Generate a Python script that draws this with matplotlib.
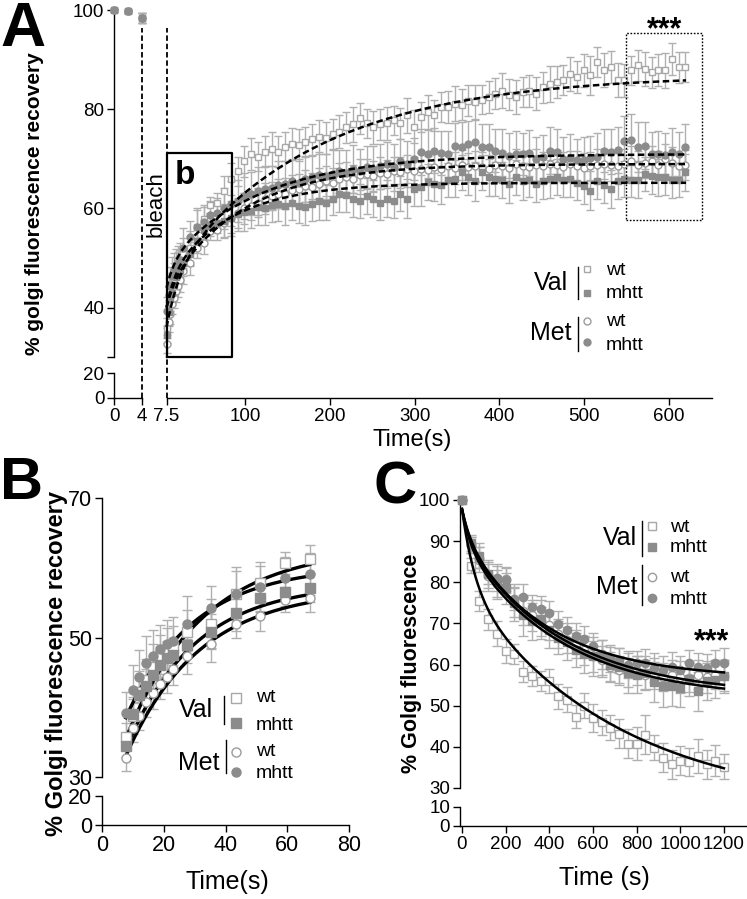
import numpy as np
import matplotlib
matplotlib.use("Agg")
import matplotlib.pyplot as plt
from matplotlib.lines import Line2D

plt.rcParams["font.family"] = ["Liberation Sans", "DejaVu Sans"]
plt.rcParams["axes.linewidth"] = 1.0

W, H = 747, 899

# ---------------- data ----------------
# pre-bleach frames (panel A)
pre_t = [0, 2, 4]
pre_val = [100.0, 99.8, 98.5]
pre_err = [0.3, 0.4, 1.0]

# panel B: first ~67 s after the bleach (also the start of panel A)
tB = [7.7, 9.9, 12.1, 14.3, 16.5, 18.7, 20.9, 23.1, 27.4, 35.3, 43.3, 51.3, 59.3, 67.3]
valwt_B = [35.8, 38.7, 42.2, 43.9, 45.8, 47.3, 48.0, 48.6, 50.8, 52.0, 56.2, 57.8, 60.7, 61.2]
valmhtt_B = [34.4, 39.0, 41.8, 43.0, 44.6, 46.1, 47.0, 47.5, 48.9, 50.8, 53.5, 55.6, 56.5, 57.1]
metwt_B = [32.7, 37.0, 38.7, 40.8, 42.0, 43.4, 44.4, 45.5, 47.3, 49.0, 52.0, 53.1, 55.4, 55.6]
metmhtt_B = [39.2, 42.5, 44.4, 46.4, 47.3, 48.3, 49.0, 49.5, 52.0, 54.2, 56.3, 57.3, 58.6, 59.1]
valwt_B_err = [2.0, 2.5, 3.0, 3.0, 3.2, 3.0, 3.3, 3.0, 3.2, 3.5, 3.4, 2.5, 1.6, 2.0]
valmhtt_B_err = [1.5, 2.5, 2.5, 2.5, 2.5, 2.5, 2.5, 2.5, 2.5, 2.5, 2.5, 2.0, 2.0, 2.0]
metwt_B_err = [1.8, 2.0, 2.0, 2.2, 2.2, 2.2, 2.3, 2.3, 2.5, 2.5, 2.0, 2.2, 1.8, 2.0]
metmhtt_B_err = [3.0, 3.5, 3.8, 3.8, 3.8, 3.5, 3.5, 3.5, 4.0, 3.2, 3.8, 3.5, 3.0, 3.0]

# panel A: rest of the recovery, one frame every 8 s
tA_late = np.arange(75.3, 620, 8)
valwt_A = [63.5, 66.0, 67.5, 69.5, 71.0, 70.5, 71.5, 72.0, 71.5, 72.5,
           73.0, 72.8, 73.5, 74.0, 74.5, 74.2, 75.0, 75.5, 76.4, 77.0,
           78.2, 77.2, 76.4, 77.0, 77.2, 77.8, 77.2, 78.8, 76.5, 78.5,
           79.5, 78.8, 80.5, 80.5, 81.2, 81.0, 81.8, 81.5, 82.0, 82.5,
           83.2, 83.8, 83.0, 82.5, 83.5, 83.8, 83.2, 84.5, 85.2, 85.5,
           86.0, 87.2, 86.5, 87.9, 86.9, 89.6, 88.0, 88.6, 86.0, 85.9,
           87.9, 88.9, 88.2, 87.5, 88.0, 87.9, 90.2, 88.5, 88.6]
valmhtt_A = [57.5, 58.0, 58.8, 59.3, 59.5, 60.3, 60.0, 60.8, 61.0, 60.5,
             61.2, 60.5, 60.3, 61.0, 61.5, 61.2, 62.0, 63.0, 62.8, 62.0,
             61.5, 62.5, 62.0, 61.2, 62.0, 61.5, 63.0, 62.0, 64.0, 64.3,
             65.3, 65.0, 64.8, 65.7, 66.0, 67.3, 66.3, 65.5, 67.3, 66.3,
             66.0, 65.7, 65.0, 66.3, 65.5, 65.7, 65.0, 65.5, 66.0, 66.3,
             65.8, 66.0, 65.2, 64.5, 63.6, 65.5, 64.8, 64.0, 65.5, 66.0,
             65.7, 65.8, 67.0, 66.5, 66.3, 66.3, 65.8, 65.7, 67.3]
metwt_A = [57.0, 58.0, 59.0, 60.0, 60.5, 61.2, 62.0, 62.5, 63.0, 63.0,
           63.8, 64.0, 64.5, 64.3, 65.0, 65.5, 65.2, 66.0, 66.3, 66.0,
           66.8, 67.0, 66.5, 67.2, 67.0, 67.5, 67.3, 68.0, 67.5, 68.0,
           67.8, 68.3, 68.0, 68.5, 68.2, 68.8, 68.3, 68.6, 68.4, 68.0,
           68.8, 68.5, 68.2, 68.9, 68.6, 68.3, 68.8, 68.5, 69.0, 68.7,
           68.4, 68.9, 68.6, 68.2, 68.5, 68.8, 69.0, 68.7, 68.5, 69.0,
           69.5, 68.8, 69.2, 69.5, 68.8, 70.0, 69.2, 68.5, 68.8]
metmhtt_A = [60.0, 61.0, 61.5, 62.5, 63.0, 63.5, 64.0, 64.2, 64.8, 65.0,
             65.5, 65.2, 66.0, 66.3, 66.8, 66.5, 67.0, 67.5, 67.2, 68.0,
             67.5, 68.3, 68.0, 68.5, 69.0, 68.3, 69.5, 69.0, 70.0, 71.4,
             71.0, 71.7, 71.2, 71.0, 72.7, 72.5, 73.1, 73.5, 72.4, 72.5,
             71.7, 71.3, 70.7, 71.0, 71.0, 71.2, 70.0, 70.5, 71.7, 71.5,
             70.0, 70.3, 69.7, 69.8, 70.2, 70.5, 71.7, 71.5, 71.8, 73.7,
             73.9, 72.4, 72.7, 71.0, 71.0, 70.8, 71.4, 71.0, 72.4]
valwt_A_err = [3.0, 3.2, 3.0, 3.1, 3.3, 3.0, 3.2, 3.4, 3.1, 3.0,
               3.2, 3.3, 3.0, 3.1, 3.4, 3.2, 3.0, 3.3, 3.1, 3.5,
               3.2, 3.0, 3.3, 3.1, 3.4, 3.0, 3.2, 3.5, 3.3, 3.1,
               3.4, 3.2, 3.0, 3.3, 3.6, 3.2, 3.1, 3.4, 3.0, 3.3,
               3.2, 3.5, 3.1, 3.4, 3.0, 3.2, 3.3, 3.1, 3.6, 3.2,
               3.0, 3.4, 3.2, 3.3, 4.0, 3.1, 3.5, 3.2, 3.4, 3.3,
               3.0, 3.2, 3.5, 3.1, 3.3, 3.6, 3.2, 3.1, 3.0]
valmhtt_A_err = [3.5, 3.6, 3.4, 3.8, 3.5, 3.7, 3.4, 3.6, 3.5, 3.8,
                 3.6, 3.4, 3.7, 3.5, 3.9, 3.6, 3.4, 3.8, 3.5, 3.7,
                 3.4, 3.6, 3.8, 3.5, 3.7, 3.4, 3.6, 4.0, 3.5, 3.7,
                 3.6, 3.5, 3.8, 3.4, 3.7, 3.5, 3.6, 3.9, 3.5, 3.7,
                 3.4, 3.6, 3.8, 3.5, 3.7, 3.4, 3.6, 3.5, 3.8, 3.6,
                 3.5, 3.7, 3.4, 3.6, 4.0, 3.5, 3.7, 3.8, 3.5, 3.6,
                 3.4, 3.7, 3.5, 3.6, 3.8, 3.5, 3.6, 3.4, 3.7]
metwt_A_err = [2.8, 3.0, 2.9, 3.1, 2.8, 3.0, 3.2, 2.9, 3.0, 3.1,
               2.9, 3.0, 3.2, 2.8, 3.1, 3.0, 2.9, 3.2, 3.0, 2.8,
               3.1, 2.9, 3.0, 3.2, 2.8, 3.0, 3.1, 2.9, 3.0, 3.2,
               2.9, 3.1, 3.0, 2.8, 3.2, 3.0, 2.9, 3.1, 3.0, 2.8,
               3.0, 3.2, 2.9, 3.1, 3.0, 2.8, 3.2, 3.0, 2.9, 3.1,
               3.0, 2.8, 3.1, 3.0, 2.9, 3.2, 3.0, 3.1, 2.8, 3.0,
               3.2, 2.9, 3.0, 3.1, 2.9, 3.0, 3.2, 2.8, 3.0]
metmhtt_A_err = [4.2, 4.5, 4.3, 4.6, 4.4, 4.8, 4.5, 4.3, 4.7, 4.5,
                 4.4, 4.8, 4.6, 4.3, 4.7, 4.5, 4.9, 4.4, 4.6, 4.8,
                 4.5, 4.3, 4.7, 4.6, 4.4, 4.8, 4.5, 4.7, 4.3, 4.6,
                 4.8, 4.5, 4.4, 4.7, 4.6, 4.9, 4.5, 4.3, 4.7, 4.6,
                 4.4, 4.8, 4.5, 4.6, 4.3, 4.7, 4.5, 4.4, 4.8, 4.6,
                 4.5, 4.7, 4.3, 4.6, 4.5, 4.8, 4.4, 4.6, 4.7, 5.0,
                 5.2, 5.0, 4.7, 4.5, 4.6, 4.4, 4.8, 4.5, 4.7]

# panel C: loss of fluorescence, one frame every 40 s
tC = np.arange(0, 1201, 40)
valwt_C = [100.0, 84.0, 75.5, 71.0, 67.5, 63.3, 62.6, 58.3, 57.2, 56.0,
           56.0, 52.3, 51.5, 47.3, 50.0, 47.0, 46.0, 44.7, 43.2, 40.8,
           40.8, 43.0, 39.8, 37.4, 35.8, 36.6, 36.3, 37.8, 35.8, 36.6,
           35.2]
valmhtt_C = [100.0, 89.5, 86.5, 82.0, 80.5, 78.5, 75.0, 72.0, 70.5, 71.0,
             68.5, 66.5, 65.5, 63.5, 62.5, 62.0, 61.5, 60.0, 59.5, 58.0,
             57.5, 58.0, 55.8, 54.8, 54.8, 54.3, 56.5, 53.5, 56.0, 56.3,
             57.2]
metwt_C = [100.0, 89.0, 85.5, 81.5, 79.5, 80.8, 75.0, 73.0, 72.0, 70.5,
           69.5, 67.5, 66.0, 65.0, 63.5, 62.0, 61.0, 59.5, 58.8, 58.0,
           58.5, 57.5, 57.8, 57.0, 57.5, 57.0, 56.8, 57.5, 57.0, 57.5,
           57.3]
metmhtt_C = [100.0, 89.0, 86.0, 82.0, 81.0, 80.5, 76.0, 76.5, 74.0, 73.5,
             72.5, 69.8, 68.5, 67.0, 66.3, 64.5, 62.5, 61.5, 61.0, 60.0,
             60.3, 60.5, 59.2, 58.8, 59.5, 58.7, 60.3, 59.3, 59.1, 60.3,
             60.5]
valwt_C_err = [0.0, 1.8, 2.5, 2.5, 3.0, 3.0, 2.5, 2.5, 2.5, 2.5,
               3.0, 3.0, 3.0, 2.8, 3.0, 3.5, 3.0, 3.0, 3.5, 3.5,
               4.0, 4.8, 3.0, 3.5, 3.5, 3.5, 3.5, 4.2, 3.5, 3.8,
               3.0]
valmhtt_C_err = [0.0, 2.0, 3.0, 3.5, 4.0, 3.8, 4.5, 5.0, 4.5, 4.8,
                 4.5, 4.0, 4.5, 4.2, 4.5, 4.8, 4.5, 4.3, 4.5, 4.8,
                 4.5, 4.2, 4.8, 5.0, 4.8, 4.5, 4.2, 4.8, 4.5, 4.5,
                 4.0]
metwt_C_err = [0.0, 2.0, 3.0, 3.5, 3.5, 3.0, 3.5, 3.5, 3.8, 3.5,
               3.5, 3.5, 3.2, 3.5, 3.5, 3.8, 3.5, 3.5, 3.2, 3.5,
               3.5, 3.5, 3.8, 3.5, 3.5, 3.8, 3.5, 3.5, 3.8, 3.5,
               3.8]
metmhtt_C_err = [0.0, 2.0, 2.5, 2.5, 3.0, 3.0, 2.8, 3.0, 3.0, 3.2,
                 3.0, 3.2, 3.0, 3.2, 3.0, 3.2, 3.5, 3.2, 3.0, 3.2,
                 3.0, 3.2, 3.5, 3.2, 3.5, 3.5, 3.2, 3.5, 3.5, 3.2,
                 3.5]

# fitted curves (parameters of the fits drawn in the figure)
# A: two-phase association (start, fast amp, fast tau, slow amp, slow tau)
fitA_valwt = (36.0, 10.0, 15.0, 41.0, 170.0)
fitA_valmhtt = (40.0, 6.0, 10.0, 19.2, 75.0)
fitA_metwt = (40.0, 4.0, 10.0, 25.0, 90.0)
fitA_metmhtt = (44.0, 5.0, 10.0, 22.0, 110.0)
# B: one-phase association (start, plateau, k)
fitB_valwt = (35.5, 63.0, 0.040)
fitB_valmhtt = (34.0, 57.8, 0.045)
fitB_metwt = (33.0, 57.0, 0.042)
fitB_metmhtt = (38.5, 60.3, 0.045)
# C: two-phase decay (plateau, fast amp, fast tau, slow amp, slow tau)
fitC_valwt = (25.0, 18.4, 60.0, 54.4, 700.0)
fitC_valmhtt = (51.5, 8.0, 40.0, 38.3, 450.0)
fitC_metwt = (52.4, 7.0, 40.0, 38.4, 450.0)
fitC_metmhtt = (56.6, 6.0, 40.0, 35.2, 380.0)

bleach_t = [4, 7.5]
box_b = (7.5, 85.0, 30.0, 71.3)
box_late = (549.0, 639.0, 57.6, 95.4)


# ---------------- helpers ----------------
def fx(x):
    return x / W


def fy(y):
    return 1 - y / H


def piecewise(bp, px):
    return (lambda v: np.interp(v, bp, px), lambda p: np.interp(p, px, bp))


def assoc2(t, p, t0):
    y0, a1, tau1, a2, tau2 = p
    s = t - t0
    return y0 + a1 * (1 - np.exp(-s / tau1)) + a2 * (1 - np.exp(-s / tau2))


def assoc1(t, p, t0):
    y0, plat, k = p
    return y0 + (plat - y0) * (1 - np.exp(-k * (t - t0)))


def decay2(t, p):
    plat, a1, tau1, a2, tau2 = p
    return plat + a1 * np.exp(-t / tau1) + a2 * np.exp(-t / tau2)


ERR = "#b0b0b0"
GRAY = "#8c8c8c"
VALWT = dict(marker="s", mfc="white", mec="#a8a8a8")
VALMHTT = dict(marker="s", mfc=GRAY, mec=GRAY)
METWT = dict(marker="o", mfc="white", mec="#9c9c9c")
METMHTT = dict(marker="o", mfc=GRAY, mec=GRAY)


def draw_series(ax, t, y, e, st, cap, ms):
    ax.errorbar(t, y, yerr=e, fmt="none", ecolor=ERR, elinewidth=1,
                capsize=cap, capthick=1, zorder=2, clip_on=False)
    ax.plot(t, y, ls="none", marker=st["marker"], ms=ms, mfc=st["mfc"],
            mec=st["mec"], mew=1, zorder=3, clip_on=False)


def style_axes(ax, lsize):
    ax.spines["top"].set_visible(False)
    ax.spines["right"].set_visible(False)
    ax.tick_params(direction="out", length=5, width=1, labelsize=lsize, pad=2)


def extra_spine(ax, lo, hi, axis):
    if axis == "y":
        ax.plot([0, 0], [lo, hi], transform=ax.get_yaxis_transform(),
                color="k", lw=1, clip_on=False)
    else:
        ax.plot([lo, hi], [0, 0], transform=ax.get_xaxis_transform(),
                color="k", lw=1, clip_on=False)


def legend_group(fig, name, name_x, name_y, bar_x, bar_y, mk_x, mk_y, txt_x, txt_y,
                 open_st, fill_st, fs_name, fs_txt, ms):
    fig.text(fx(name_x), fy(name_y), name, ha="right", va="center", fontsize=fs_name)
    fig.add_artist(Line2D([fx(bar_x)] * 2, [fy(bar_y[0]), fy(bar_y[1])], color="k", lw=1))
    for st, yy in ((open_st, mk_y[0]), (fill_st, mk_y[1])):
        fig.add_artist(Line2D([fx(mk_x)], [fy(yy)], ls="none", marker=st["marker"],
                              ms=ms, mfc=st["mfc"], mec=st["mec"], mew=1))
    fig.text(fx(txt_x), fy(txt_y[0]), "wt", ha="left", va="center", fontsize=fs_txt)
    fig.text(fx(txt_x), fy(txt_y[1]), "mhtt", ha="left", va="center", fontsize=fs_txt)


fig = plt.figure(figsize=(W / 100, H / 100), dpi=100)

# ---------------- panel A ----------------
axA = fig.add_axes([fx(114), fy(398), 597.5 / W, 392.45 / H])
axA.set_xscale("function", functions=piecewise([-100, 0, 7.5, 2000],
                                               [-700, 0, 52.5, 52.5 + 1992.5 * 0.848]))
axA.set_yscale("function", functions=piecewise([-100, 0, 20, 30, 300],
                                               [-125, 0, 25, 41, 41 + 270 * 4.95]))
style_axes(axA, 13.5)

tA = list(pre_t) + list(tB) + list(tA_late)
seriesA = [
    (valwt_B + valwt_A, valwt_B_err + valwt_A_err, VALWT),
    (metwt_B + metwt_A, metwt_B_err + metwt_A_err, METWT),
    (metmhtt_B + metmhtt_A, metmhtt_B_err + metmhtt_A_err, METMHTT),
    (valmhtt_B + valmhtt_A, valmhtt_B_err + valmhtt_A_err, VALMHTT),
]
for y, e, st in seriesA:
    draw_series(axA, tA, pre_val + y, pre_err + e, st, 3, 5)

tfitA = np.linspace(7.5, 620, 400)
for p in (fitA_valwt, fitA_valmhtt, fitA_metwt, fitA_metmhtt):
    axA.plot(tfitA, assoc2(tfitA, p, 7.5), color="k", lw=1.8,
             ls=(0, (2.6, 1.4)), zorder=4)

axA.vlines(bleach_t, 0, 96.5, colors="k", lw=1.3, linestyles=(0, (3, 1.6)), zorder=4)
x0, x1, y0, y1 = box_b
axA.plot([x0, x1, x1, x0, x0], [y0, y0, y1, y1, y0], color="k", lw=1.6, zorder=5)
x0, x1, y0, y1 = box_late
axA.plot([x0, x1, x1, x0, x0], [y0, y0, y1, y1, y0], color="k", lw=1.0,
         ls=(0, (1.2, 1.2)), zorder=5)
axA.text(17, 69.8, "b", ha="left", va="top", fontsize=24, fontweight="bold", zorder=6)
axA.text(6.0, 60.8, "bleach", rotation=90, ha="center", va="center", fontsize=16)

axA.set_xlim(0, 650)
axA.set_ylim(0, 101)
axA.spines["left"].set_bounds(30, 100)
axA.spines["bottom"].set_bounds(7.5, 650)
extra_spine(axA, 0, 20, "y")
extra_spine(axA, 0, 4, "x")
axA.set_yticks([0, 20, 30, 40, 60, 80, 100])
axA.set_yticklabels(["0", "20", "", "40", "60", "80", "100"])
axA.set_xticks([0, 4, 7.5, 100, 200, 300, 400, 500, 600])
axA.set_xticklabels(["0", "4", "7.5", "100", "200", "300", "400", "500", "600"])

fig.text(fx(35), fy(204), "% golgi fluorescence recovery", rotation=90,
         ha="center", va="center", fontsize=15, fontweight="bold")
fig.text(fx(412), fy(440), "Time(s)", ha="center", va="center", fontsize=17)
fig.text(fx(665), fy(38), "***", ha="center", va="baseline", fontsize=22, fontweight="bold")
legend_group(fig, "Val", 568, 283, 578, (267, 299), 587, (269, 293), 606, (270, 294),
             VALWT, VALMHTT, 18, 14, 5)
legend_group(fig, "Met", 572, 333, 578, (317, 351), 587, (321, 342), 606, (321, 345),
             METWT, METMHTT, 18, 14, 5)

# ---------------- panel B ----------------
axB = fig.add_axes([fx(102), fy(825), 247 / W, 327 / H])
axB.set_yscale("function", functions=piecewise([-100, 0, 20, 30, 200],
                                               [-145, 0, 29, 48, 48 + 170 * 6.975]))
style_axes(axB, 15.5)
tfitB = np.linspace(tB[0], tB[-1], 200)
for p in (fitB_valwt, fitB_valmhtt, fitB_metwt, fitB_metmhtt):
    axB.plot(tfitB, assoc1(tfitB, p, tB[0]), color="k", lw=2.4, zorder=2.5)
for y, e, st in ((valwt_B, valwt_B_err, VALWT), (metwt_B, metwt_B_err, METWT),
                 (metmhtt_B, metmhtt_B_err, METMHTT), (valmhtt_B, valmhtt_B_err, VALMHTT)):
    draw_series(axB, tB, y, e, st, 3.5, 6.5)
axB.set_xlim(0, 80)
axB.set_ylim(0, 70)
axB.spines["left"].set_bounds(30, 70)
extra_spine(axB, 0, 20, "y")
axB.set_yticks([0, 20, 30, 50, 70])
axB.set_xticks([0, 20, 40, 60, 80])
fig.text(fx(57), fy(663), "% Golgi fluorescence recovery", rotation=90,
         ha="center", va="center", fontsize=17, fontweight="bold")
fig.text(fx(227), fy(882), "Time(s)", ha="center", va="center", fontsize=18)
legend_group(fig, "Val", 213, 710, 224, (696, 724), 236, (698, 723), 256, (698, 725),
             VALWT, VALMHTT, 18, 14, 6.5)
legend_group(fig, "Met", 219, 763, 226, (740, 773), 236, (752, 772), 256, (752, 773),
             METWT, METMHTT, 18, 14, 6.5)

# ---------------- panel C ----------------
axC = fig.add_axes([fx(459.8), fy(826), 286 / W, 326 / H])
axC.set_yscale("function", functions=piecewise([-100, 0, 10, 30, 200],
                                               [-190, 0, 19, 38, 38 + 170 * 4.114]))
style_axes(axC, 13.5)
for y, e, st in ((valwt_C, valwt_C_err, VALWT), (metwt_C, metwt_C_err, METWT),
                 (metmhtt_C, metmhtt_C_err, METMHTT), (valmhtt_C, valmhtt_C_err, VALMHTT)):
    draw_series(axC, tC, y, e, st, 3.5, 6)
tfitC = np.linspace(0, 1200, 400)
for p in (fitC_valwt, fitC_valmhtt, fitC_metwt, fitC_metmhtt):
    axC.plot(tfitC, decay2(tfitC, p), color="k", lw=1.8, zorder=4)
axC.set_xlim(-10, 1300)
axC.set_ylim(0, 100)
axC.spines["left"].set_bounds(30, 100)
extra_spine(axC, 0, 10, "y")
axC.set_yticks([0, 10, 30, 40, 50, 60, 70, 80, 90, 100])
axC.set_xticks([0, 200, 400, 600, 800, 1000, 1200])
fig.text(fx(412), fy(663), "% Golgi fluorescence", rotation=90,
         ha="center", va="center", fontsize=15.5, fontweight="bold")
fig.text(fx(604), fy(878), "Time (s)", ha="center", va="center", fontsize=18)
fig.text(fx(712), fy(650), "***", ha="center", va="baseline", fontsize=22, fontweight="bold")
legend_group(fig, "Val", 637, 538, 642, (521, 556), 652, (526, 547), 670, (527, 548),
             VALWT, VALMHTT, 18, 14, 6)
legend_group(fig, "Met", 638, 587, 642, (565, 605), 652, (577, 598), 670, (577, 600),
             METWT, METMHTT, 18, 14, 6)

# panel letters
fig.text(fx(0), fy(0), "A", ha="left", va="top", fontsize=45, fontweight="bold")
fig.text(fx(0), fy(456), "B", ha="left", va="top", fontsize=43, fontweight="bold")
fig.text(fx(373), fy(460), "C", ha="left", va="top", fontsize=43, fontweight="bold")

fig.savefig("out.png", dpi=100)
